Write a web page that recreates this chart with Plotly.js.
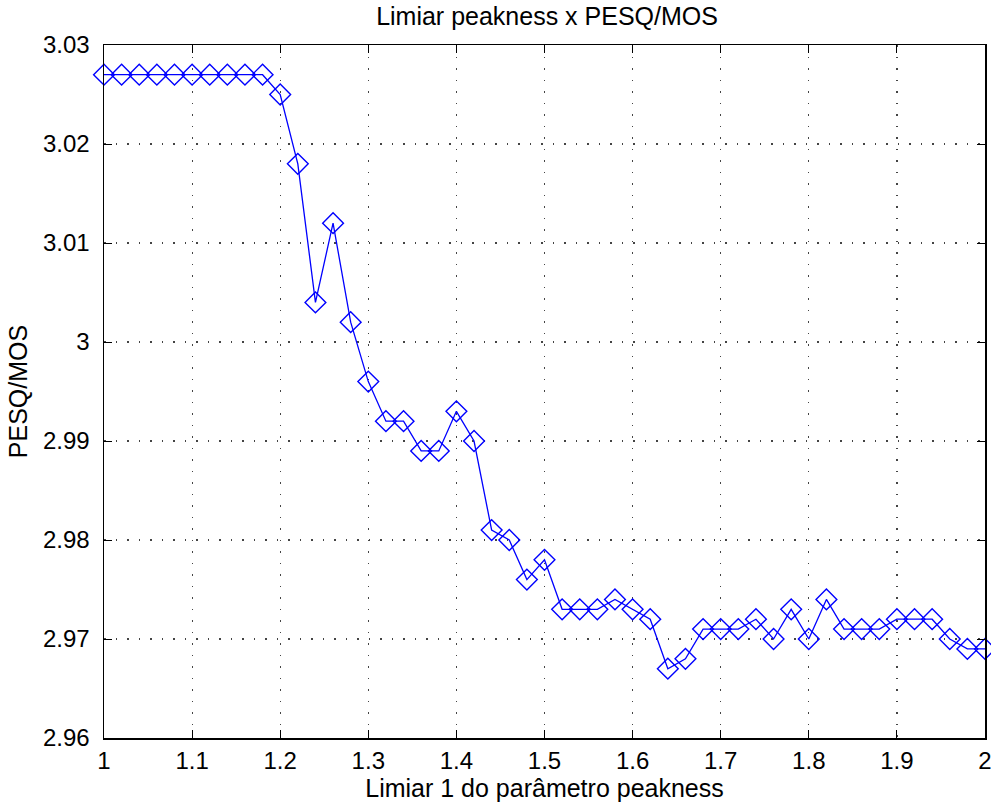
<!DOCTYPE html>
<html>
<head>
<meta charset="utf-8">
<script src="https://cdn.plot.ly/plotly-3.0.1.min.js"></script>
<style>html,body{margin:0;padding:0;background:#fff;}#chart{width:991px;height:805px;}</style>
</head>
<body>
<div id="chart"></div>
<script>
const xValues = [1.00,1.02,1.04,1.06,1.08,1.10,1.12,1.14,1.16,1.18,
  1.20,1.22,1.24,1.26,1.28,1.30,1.32,1.34,1.36,1.38,
  1.40,1.42,1.44,1.46,1.48,1.50,1.52,1.54,1.56,1.58,
  1.60,1.62,1.64,1.66,1.68,1.70,1.72,1.74,1.76,1.78,
  1.80,1.82,1.84,1.86,1.88,1.90,1.92,1.94,1.96,1.98,2.00];
const pesqMos = [3.027,3.027,3.027,3.027,3.027,3.027,3.027,3.027,3.027,3.027,
  3.025,3.018,3.004,3.012,3.002,2.996,2.992,2.992,2.989,2.989,
  2.993,2.990,2.981,2.980,2.976,2.978,2.973,2.973,2.973,2.974,
  2.973,2.972,2.967,2.968,2.971,2.971,2.971,2.972,2.970,2.973,
  2.970,2.974,2.971,2.971,2.971,2.972,2.972,2.972,2.970,2.969,2.969];
const xTickVals = [1,1.1,1.2,1.3,1.4,1.5,1.6,1.7,1.8,1.9,2];
const xTickText = ["1","1.1","1.2","1.3","1.4","1.5","1.6","1.7","1.8","1.9","2"];
const yTickVals = [2.96,2.97,2.98,2.99,3.00,3.01,3.02,3.03];
const yTickText = ["2.96","2.97","2.98","2.99","3","3.01","3.02","3.03"];

const font = "Liberation Sans, Arial, sans-serif";
const trace = {
  x: xValues, y: pesqMos, type: 'scatter', mode: 'lines+markers',
  line: {color: '#0000ff', width: 1.3},
  marker: {symbol: 'diamond-open', size: 16, color: '#0000ff', line: {width: 1.4, color: '#0000ff'}},
  cliponaxis: false,
  showlegend: false
};
const axisCommon = {
  showline: true, linecolor: '#000', linewidth: 1.5, mirror: 'allticks',
  ticks: 'inside', ticklen: 8, tickcolor: '#000', tickwidth: 1,
  showgrid: true, gridcolor: '#444', griddash: '1.5px,10px', gridwidth: 1.2,
  zeroline: false, tickfont: {family: font, size: 24, color: '#000'},
  ticklabeloverflow: 'allow'
};
const layout = {
  width: 991, height: 805,
  margin: {l: 104, r: 6, t: 45, b: 67},
  paper_bgcolor: '#fff', plot_bgcolor: '#fff',
  title: {text: 'Limiar peakness x PESQ/MOS', font: {family: font, size: 25, color: '#000'}, x: 0.552, xanchor: 'center', y: 0.991, yanchor: 'top'},
  xaxis: Object.assign({}, axisCommon, {
    range: [1, 2], tickmode: 'array', tickvals: xTickVals, ticktext: xTickText, ticklabelstandoff: 1,
    title: {text: 'Limiar 1 do parâmetro peakness', font: {family: font, size: 25, color: '#000'}, standoff: 3}
  }),
  yaxis: Object.assign({}, axisCommon, {
    range: [2.96, 3.03], tickmode: 'array', tickvals: yTickVals, ticktext: yTickText, ticklabelstandoff: 8,
    title: {text: 'PESQ/MOS', font: {family: font, size: 25, color: '#000'}, standoff: 8}
  })
};
Plotly.newPlot('chart', [trace], layout, {displayModeBar: false, staticPlot: true});
</script>
</body>
</html>
